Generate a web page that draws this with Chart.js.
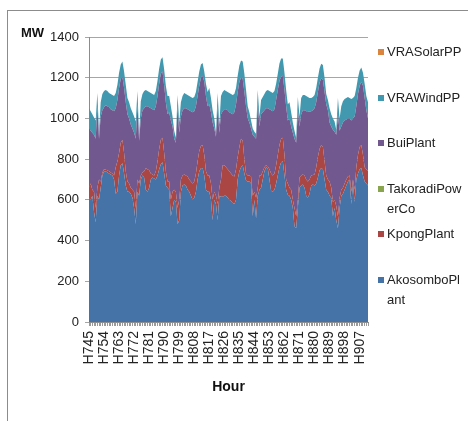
<!DOCTYPE html>
<html>
<head>
<meta charset="utf-8">
<script src="https://cdn.jsdelivr.net/npm/chart.js@4.4.1/dist/chart.umd.min.js"></script>
<style>
  html, body { margin: 0; padding: 0; background: #fff; overflow: hidden; }
  #wrap { position: relative; width: 468px; height: 421px; overflow: hidden;
          font-family: "Liberation Sans", Arial, sans-serif; }
  #frame { position: absolute; left: 7px; top: 10px; width: 600px; height: 600px;
           border: 1px solid #8c8c8c; }
  canvas { position: absolute; left: 0; top: 0; }
  #unit { position: absolute; left: 21px; top: 25px; font-weight: bold; font-size: 13px;
          line-height: 16px; color: #111; }
  #legend { position: absolute; left: 378px; top: 0; }
  .item { position: absolute; left: 0; width: 90px; }
  .sw { position: absolute; left: 0; top: 7px; width: 6px; height: 6px; }
  .tx { position: absolute; left: 9px; top: 0; width: 77px; font-size: 13px; line-height: 20px;
        color: #222; word-break: break-all; }
</style>
</head>
<body>
<div id="wrap">
  <div id="frame"></div>
  <canvas id="c" width="468" height="421"></canvas>
  <div id="unit">MW</div>
  <div id="legend"></div>
</div>
<script>
// Hourly generation by plant, H745 .. H912 (one week)
const hours = Array.from({ length: 168 }, (_, i) => 'H' + (745 + i));
const labelEvery = 9;

const akosombo = [
  610,600,620,540,490,620,600,660,720,740,740,735,730,725,720,700,630,640,720,770,780,730,670,640,
  640,630,610,560,480,640,620,700,720,710,650,640,660,700,710,705,700,720,750,775,785,730,670,660,
  650,520,560,600,590,480,500,640,670,675,670,650,640,620,600,610,640,700,740,755,757,720,650,640,
  640,600,500,600,580,500,620,615,615,620,620,610,600,595,585,580,600,700,740,760,770,730,695,690,
  690,680,520,600,510,620,650,660,700,740,760,755,700,645,640,650,680,720,760,785,790,720,650,625,
  620,600,560,470,460,560,660,670,675,660,620,610,630,670,675,670,680,710,745,757,750,700,650,640,
  620,610,520,560,500,460,560,620,630,650,670,690,700,580,680,590,700,730,750,757,720,690,680,670
];
const kpong = [
  50,80,30,100,70,40,100,30,15,10,8,10,10,10,10,20,130,150,110,110,115,100,70,50,
  40,30,40,80,80,60,60,20,15,30,105,110,85,30,15,15,40,70,100,120,120,100,70,30,
  40,80,80,50,50,80,100,60,50,50,50,65,60,70,80,80,90,90,100,110,113,100,90,80,
  80,80,100,40,40,80,40,85,155,150,140,140,140,135,135,135,150,110,120,140,120,70,35,30,
  30,35,100,40,100,40,70,60,40,20,10,10,50,85,80,80,90,100,110,115,115,100,50,55,
  40,50,40,90,60,40,50,50,50,60,80,80,70,50,47,55,80,100,105,113,110,90,70,60,
  70,50,70,40,70,60,50,30,30,30,30,25,20,60,20,60,60,90,110,113,100,70,70,70
];
const takoradi = [
  0,0,0,0,0,0,0,0,0,0,0,0,0,0,0,0,0,0,0,0,0,0,0,0,
  0,0,0,0,0,0,0,0,0,0,0,0,0,0,0,0,0,0,0,0,0,0,0,0,
  0,0,0,0,0,0,0,0,0,0,0,0,0,0,0,0,0,0,0,0,0,0,0,0,
  0,0,0,0,0,0,0,0,0,0,0,0,0,0,0,0,0,0,0,0,0,0,0,0,
  0,0,0,0,0,0,0,0,0,0,0,0,0,0,0,0,0,0,0,0,0,0,0,0,
  0,0,0,0,0,0,0,0,0,0,0,0,0,0,0,0,0,0,0,0,0,0,0,0,
  0,0,0,0,0,0,0,0,0,0,0,0,0,0,0,0,0,0,0,0,0,0,0,0
];
const bui = [
  290,260,280,280,340,400,200,320,305,305,317,315,315,310,310,315,290,300,320,315,310,320,340,330,
  320,310,300,290,340,370,210,280,305,310,305,310,310,320,320,320,320,320,320,325,325,330,340,330,
  340,390,320,250,240,500,330,310,320,325,330,330,340,345,350,345,330,320,320,335,340,360,370,340,
  350,350,380,310,290,480,270,320,265,275,285,290,290,295,300,315,320,320,320,300,305,330,330,280,
  260,235,300,270,290,415,240,300,290,280,280,285,295,310,315,315,320,320,315,305,305,320,360,310,
  340,310,330,340,360,440,250,300,315,320,335,345,333,315,318,325,320,320,325,327,330,340,350,340,
  290,300,355,335,350,500,330,310,320,310,295,285,280,350,300,360,300,300,300,310,340,340,290,260
];
const wind = [
  100,95,90,85,90,65,35,70,80,80,75,75,70,75,75,75,75,75,75,70,75,80,85,80,
  80,80,80,80,85,65,30,85,80,85,80,75,75,75,75,75,75,75,75,70,70,80,80,90,
  80,70,50,40,25,55,50,70,70,75,70,70,70,70,70,70,70,70,70,65,62,50,60,70,
  80,70,60,50,20,65,40,90,95,95,90,90,95,95,95,90,80,80,80,85,85,90,80,60,
  50,40,30,25,25,65,50,70,75,80,85,90,90,90,90,90,80,80,85,90,85,85,80,80,
  80,70,50,40,25,65,50,80,75,75,75,70,67,65,65,65,70,70,70,71,72,70,50,50,
  70,60,55,50,25,80,60,100,105,105,105,105,100,105,100,100,90,80,75,70,65,70,70,80
];
const solar = [
  0,0,0,0,0,0,0,0,0,0,0,0,0,0,0,0,0,0,0,0,0,0,0,0,
  0,0,0,0,0,0,0,0,0,0,0,0,0,0,0,0,0,0,0,0,0,0,0,0,
  0,0,0,0,0,0,0,0,0,0,0,0,0,0,0,0,0,0,0,0,0,0,0,0,
  0,0,0,0,0,0,0,0,0,0,0,0,0,0,0,0,0,0,0,0,0,0,0,0,
  0,0,0,0,0,0,0,0,0,0,0,0,0,0,0,0,0,0,0,0,0,0,0,0,
  0,0,0,0,0,0,0,0,0,0,0,0,0,0,0,0,0,0,0,0,0,0,0,0,
  0,0,0,0,0,0,0,0,0,0,0,0,0,0,0,0,0,0,0,0,0,0,0,0
];

const seriesNames = ['AkosomboPlant', 'KpongPlant', 'TakoradiPowerCo', 'BuiPlant', 'VRAWindPP', 'VRASolarPP'];
const seriesData = [akosombo, kpong, takoradi, bui, wind, solar];
const seriesColors = ['#4572A7', '#AA4643', '#89A54E', '#71588F', '#4198AF', '#DB843D'];

Chart.defaults.font.family = '"Liberation Sans", Arial, sans-serif';

const datasets = seriesNames.map((name, i) => ({
  label: name,
  data: seriesData[i],
  backgroundColor: seriesColors[i],
  borderColor: 'rgba(0,0,0,0)',
  borderWidth: 0,
  pointRadius: 0,
  tension: 0,
  fill: i === 0 ? 'origin' : '-1'
}));

const chart = new Chart(document.getElementById('c'), {
  type: 'line',
  data: { labels: hours, datasets },
  options: {
    responsive: false,
    animation: false,
    devicePixelRatio: 1,
    layout: { padding: { left: 0, top: 37, right: 100, bottom: 25 } },
    plugins: { legend: { display: false }, tooltip: { enabled: false } },
    scales: {
      x: {
        offset: false,
        grid: { display: true, drawOnChartArea: false, drawTicks: true, tickLength: 4, color: '#9a9a9a' },
        border: { display: true, color: '#8c8c8c' },
        ticks: {
          autoSkip: false, minRotation: 90, maxRotation: 90, padding: 5,
          color: '#222', font: { size: 14 },
          callback: function (v, i) { return i % labelEvery === 0 ? this.getLabelForValue(v) : ''; }
        },
        title: { display: true, text: 'Hour', color: '#111', font: { size: 14, weight: 'bold' },
                 padding: { top: 0, bottom: 0 } },
        afterFit: s => { s.height = 74; }
      },
      y: {
        stacked: true, min: 0, max: 1400,
        grid: { color: '#a6a6a6', tickLength: 4, drawTicks: true },
        border: { display: true, color: '#8c8c8c' },
        ticks: { stepSize: 200, padding: 6, color: '#222', font: { size: 13 },
                 callback: v => String(v) },
        afterFit: s => { s.width = 89; }
      }
    }
  }
});

// Legend, listed top to bottom in reverse stacking order
const legendEl = document.getElementById('legend');
const firstRowCenter = 52, rowStep = 45.6;
chart.data.datasets.slice().reverse().forEach((ds, k) => {
  const item = document.createElement('div');
  item.className = 'item';
  item.style.top = (firstRowCenter + k * rowStep - 10) + 'px';
  const sw = document.createElement('div');
  sw.className = 'sw';
  sw.style.background = ds.backgroundColor;
  const tx = document.createElement('div');
  tx.className = 'tx';
  tx.textContent = ds.label;
  item.appendChild(sw);
  item.appendChild(tx);
  legendEl.appendChild(item);
});
</script>
</body>
</html>
